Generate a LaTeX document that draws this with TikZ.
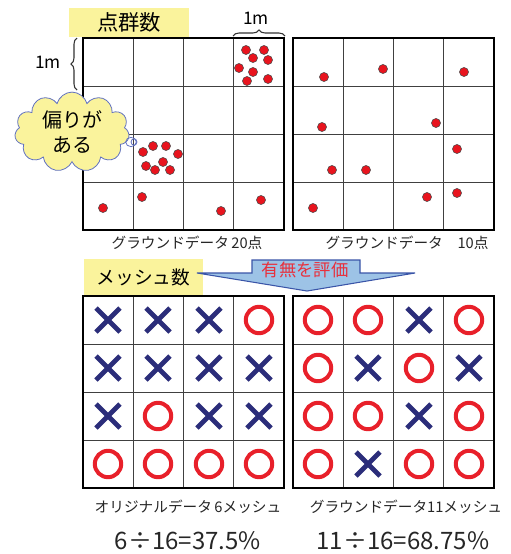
\documentclass[tikz,border=0pt]{standalone}
\usepackage{fontspec}
\setmainfont{Noto Sans CJK JP}
\usetikzlibrary{shapes.symbols,decorations.pathreplacing}
\definecolor{yel}{HTML}{FAF39C}
\definecolor{dotred}{HTML}{E8141E}
\definecolor{xblue}{HTML}{2B2D7A}
\definecolor{ored}{HTML}{E8202A}
\definecolor{arrfill}{HTML}{9DC3E6}
\definecolor{arrline}{HTML}{3A55A8}
\definecolor{cloudline}{HTML}{6272C0}
\definecolor{evalred}{HTML}{E8303C}
\tikzset{
  innerline/.style={draw=black!75, line width=0.6pt},
  outerline/.style={draw=black, line width=2.2pt},
  ptdot/.style={fill=dotred, draw=black!70, line width=0.4pt},
  xmk/.style={draw=xblue, line width=3.6pt},
  omk/.style={draw=ored, line width=3pt},
  capt/.style={font=\fontsize{11}{13}\selectfont, text=black!85, inner sep=0pt},
  pct/.style={font=\fontsize{18}{20}\selectfont, text=black!85, inner sep=0pt},
  labbox/.style={fill=yel, inner sep=0pt},
  bracestyle/.style={draw=black!80, line width=0.8pt, decorate, decoration={brace, amplitude=4.5pt}}
}
\newcommand\meshgrid[2]{%
  \foreach \i in {1,2,3} {
    \draw[innerline] (#1+\i*50.25,#2) -- (#1+\i*50.25,#2+192);
    \draw[innerline] (#1,#2+\i*48) -- (#1+201,#2+\i*48);
  }
  \draw[outerline] (#1,#2) rectangle (#1+201,#2+192);
}
\newcommand\ptd[2]{\filldraw[ptdot] (#1,#2) circle[radius=3.4pt];}
\newcommand\xmark[2]{\draw[xmk] (#1-12,#2-12) -- (#1+12,#2+12) (#1-12,#2+12) -- (#1+12,#2-12);}
\newcommand\omark[2]{\draw[omk] (#1,#2) circle[radius=9.9pt];}
\begin{document}
\begin{tikzpicture}[x=0.75pt,y=-0.75pt]
\useasboundingbox (0,0) rectangle (511,554);

% top label
\node[labbox, minimum width=90pt, minimum height=22pt, font=\fontsize{16}{16}\selectfont] (ptcount) at (129,22.5) {点群数};

% top grids
\meshgrid{83}{38}
\meshgrid{293}{38}

% dots left
\foreach \p in {(246,50),(264,50),(253,58),(268,60),(239,68),(253,72),(247,81),(268,79),
                (143,152),(153,146),(166,146),(178,154),(163,162),(146,166),(155,170),(170,170),
                (103,208),(142,197),(221,211),(261,200)}
  \filldraw[ptdot] \p circle[radius=3.4pt];
% dots right
\foreach \p in {(324,77),(383,69),(464,72),(322,127),(436,123),(457,149),(332,170),(366,170),
                (313,208),(427,197),(457,193)}
  \filldraw[ptdot] \p circle[radius=3.4pt];

% braces
\coordinate (bt1) at (233,36);
\coordinate (bt2) at (285,36);
\draw[bracestyle] (bt1) -- (bt2);
\node[font=\fontsize{13}{13}\selectfont, inner sep=0pt] (m1top) at (256,18) {1m};
\coordinate (bl1) at (77,90);
\coordinate (bl2) at (77,38);
\draw[bracestyle] (bl1) -- (bl2);
\node[font=\fontsize{13}{13}\selectfont, inner sep=0pt] (m1left) at (48,62) {1m};

% cloud
\node[cloud, cloud puffs=11, aspect=1.6, draw=cloudline, fill=yel, line width=0.6pt,
      minimum width=86pt, minimum height=54pt, align=center, inner sep=0pt,
      font=\fontsize{15}{19}\selectfont] (cloud) at (72,132) {偏りが\\ある};
\draw[cloudline, line width=0.6pt] (131,142) ellipse[x radius=4pt, y radius=3.5pt];
\draw[cloudline, line width=0.6pt] (134,142) ellipse[x radius=2.2pt, y radius=2.4pt];

% captions top
\node[capt] (cap1) at (187,243) {グラウンドデータ\,20点};
\node[capt] (cap2) at (407,243) {グラウンドデータ　10点};

% mesh label
\node[labbox, minimum width=89pt, minimum height=28pt, font=\fontsize{14}{14}\selectfont] (meshcount) at (143.5,277.5) {メッシュ数};

% arrow
\filldraw[fill=arrfill, draw=arrline, line width=0.8pt]
  (252,260) -- (360,260) -- (360,273) -- (415,273) -- (307,291) -- (197,273) -- (252,273) -- cycle;
\node[font=\fontsize{13}{13}\selectfont, text=evalred, inner sep=0pt] (evallbl) at (305,270) {有無を評価};

% bottom grids
\meshgrid{83}{296}
\meshgrid{293}{296}

% left marks
\xmark{108}{320} \xmark{158}{320} \xmark{209}{320} \omark{259}{320}
\xmark{108}{368} \xmark{158}{368} \xmark{209}{368} \xmark{259}{368}
\xmark{108}{416} \omark{158}{416} \xmark{209}{416} \xmark{259}{416}
\omark{108}{464} \omark{158}{464} \omark{209}{464} \omark{259}{464}
% right marks
\omark{318}{320} \omark{368}{320} \xmark{419}{320} \omark{469}{320}
\omark{318}{368} \xmark{368}{368} \omark{419}{368} \xmark{469}{368}
\omark{318}{416} \omark{368}{416} \xmark{419}{416} \omark{469}{416}
\omark{318}{464} \xmark{368}{464} \omark{419}{464} \omark{469}{464}

% bottom captions
\node[capt] (cap3) at (188,507) {オリジナルデータ\,6メッシュ};
\node[capt] (cap4) at (406,507) {グラウンドデータ11メッシュ};
\node[pct] (pct1) at (188,541) {6÷16=37.5\%};
\node[pct] (pct2) at (403,541) {11÷16=68.75\%};
\end{tikzpicture}
\end{document}
